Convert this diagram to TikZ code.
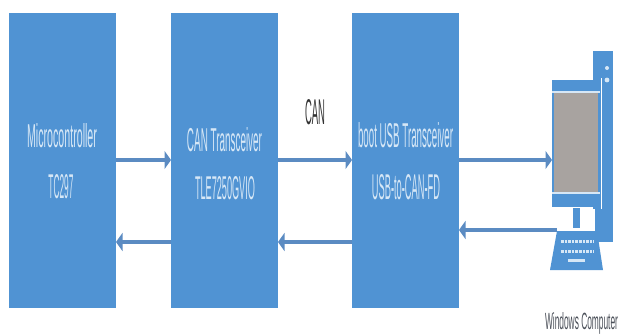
\documentclass[tikz,border=0pt]{standalone}
\usepackage{fontspec}
\setmainfont{Liberation Sans}
\usetikzlibrary{arrows.meta}
\definecolor{boxblue}{HTML}{5093D3}
\definecolor{arrowblue}{HTML}{5B8BC2}
\definecolor{softtext}{HTML}{D6E7F6}
\definecolor{screengrey}{HTML}{A8A3A0}
\definecolor{labeltext}{HTML}{4A4F58}
\newcommand{\fit}[3]{\resizebox{#1pt}{#2pt}{#3}}
\tikzset{
  x=1pt,y=-1pt,
  blockbox/.style={fill=boxblue,draw=none,minimum width=107pt,minimum height=295pt,inner sep=0pt,outer sep=0pt,anchor=north west},
  plain/.style={inner sep=0pt,outer sep=0pt,anchor=center},
  boxtext/.style={plain,text=softtext},
  link/.style={draw=arrowblue,line width=3.2pt,-{Triangle[length=6.5pt,width=18pt,color=arrowblue]},shorten >=0pt},
  pcpart/.style={fill=boxblue,draw=none,inner sep=0pt,outer sep=0pt,anchor=north west},
}
\begin{document}
\begin{tikzpicture}
\useasboundingbox (0,0) rectangle (619,335);
\node[blockbox] (mcu) at (9,13) {};
\node[blockbox] (can) at (171,13) {};
\node[blockbox] (usb) at (352,13) {};
% computer
\node[pcpart,minimum width=20pt,minimum height=191pt] (tower) at (593,51) {};
\fill[softtext] (607,68) circle (2pt) (607,80) circle (2.4pt);
\draw[white,line width=1.5pt] (601.5,78)--(601.5,209);
\draw[white,line width=1.5pt] (594,209)--(594,242);
\node[pcpart,minimum width=48pt,minimum height=127pt] (monitor) at (552,80) {};
\node[pcpart,fill=screengrey,minimum width=44pt,minimum height=101pt] (screen) at (554,92) {};
\draw[softtext,line width=1.3pt] (monitor.west |- screen.north) -- (monitor.east |- screen.north);
\draw[softtext,line width=1.3pt] (monitor.west |- screen.south) -- (monitor.east |- screen.south);
\node[pcpart,minimum width=7pt,minimum height=20pt] (neck) at (573,208) {};
\fill[boxblue] (557,231) -- (597,231) -- (603,270) -- (550,270) -- cycle;
\coordinate (keyend) at (557,230);
\foreach \yy in {241,251}{\draw[softtext,line width=3pt,dash pattern=on 2.6pt off 1pt] (561,\yy) -- (594,\yy);}
\draw[softtext,line width=3.4pt] (568,260.5) -- (585,260.5);
% connectors
\coordinate (upper) at (0,160);
\coordinate (lower) at (0,242);
\draw[link] (mcu.east |- upper) -- (can.west |- upper);
\draw[link] (can.west |- lower) -- (mcu.east |- lower);
\draw[link] (can.east |- upper) -- (usb.west |- upper);
\draw[link] (usb.west |- lower) -- (can.east |- lower);
\draw[link] (usb.east |- upper) -- (monitor.west |- upper);
\draw[link] (keyend) -- (usb.east |- keyend);
% labels
\node[boxtext] (t1) at (62,136) {\fit{70}{24}{Microcontroller}};
\node[boxtext] (t2) at (61,187) {\fit{25}{24}{TC297}};
\node[boxtext] (t3) at (224.5,140) {\fit{75}{24}{CAN Transceiver}};
\node[boxtext] (t4) at (225,188) {\fit{60}{23}{TLE7250GVIO}};
\node[boxtext] (t5) at (405.5,135) {\fit{95}{25}{boot USB Transceiver}};
\node[boxtext] (t6) at (406,187) {\fit{68}{25}{USB-to-CAN-FD}};
\node[plain,text=black!80] (t7) at (315,112) {\fit{20}{25}{CAN}};
\node[plain,text=labeltext] (t8) at (581.5,323) {\fit{73}{17}{Windows Computer}};
\end{tikzpicture}
\end{document}
